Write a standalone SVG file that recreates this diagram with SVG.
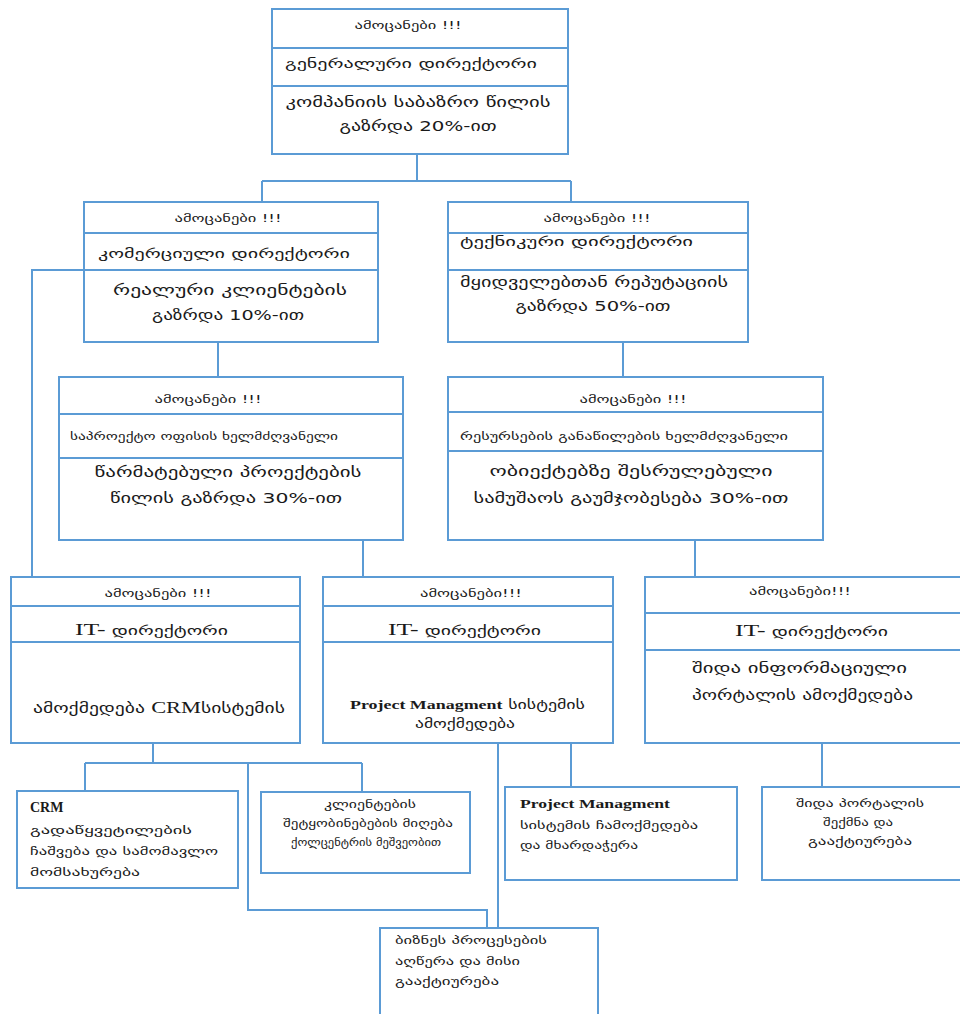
<svg xmlns="http://www.w3.org/2000/svg" width="960" height="1014" viewBox="0 0 960 1014">
  <style>
    .box { fill: #ffffff; stroke: #5B9BD5; stroke-width: 2; }
    .sep { stroke: #5B9BD5; stroke-width: 2; }
    .wire { fill: none; stroke: #5B9BD5; stroke-width: 2; }
    text { font-family: "DejaVu Sans", "Noto Sans", sans-serif; fill: #1a1a1a; }
    .hd { font-size: 11px; }
    .md { font-size: 13px; }
    .sm { font-size: 10px; }
    .bd { font-size: 14px; }
    .bt { font-size: 11px; }
    .mid { text-anchor: middle; }
    .serif { font-family: "Liberation Serif", "Times New Roman", serif; }
    .sb { font-family: "Liberation Serif", "Times New Roman", serif; font-weight: bold; }
  </style>
  <rect width="960" height="1014" fill="#ffffff"/>

  <!-- connectors -->
  <g id="connectors">
    <path class="wire" d="M417,154 V181 M262,181 H571 M262,181 V202 M571,181 V202"/>
    <path class="wire" d="M218,342 V377"/>
    <path class="wire" d="M623,342 V377"/>
    <path class="wire" d="M83,270 H32 V577"/>
    <path class="wire" d="M363,540 V577"/>
    <path class="wire" d="M695,540 V577"/>
    <path class="wire" d="M153,743 V763 M85,763 H362 M85,763 V791 M362,763 V792"/>
    <path class="wire" d="M248,763 V910 H487 V928"/>
    <path class="wire" d="M498,743 V928"/>
    <path class="wire" d="M571,743 V787"/>
    <path class="wire" d="M822,743 V787"/>
  </g>

  <!-- general director -->
  <g id="node-general">
    <rect class="box" x="272" y="9" width="296" height="145"/>
    <line class="sep" x1="272" y1="48" x2="568" y2="48"/>
    <line class="sep" x1="272" y1="86" x2="568" y2="86"/>
    <text class="hd mid" x="408" y="29" textLength="107" lengthAdjust="spacingAndGlyphs">ამოცანები !!!</text>
    <text class="md" x="285" y="68" textLength="252" lengthAdjust="spacingAndGlyphs">გენერალური დირექტორი</text>
    <text class="bd mid" x="418" y="107" textLength="265" lengthAdjust="spacingAndGlyphs">კომპანიის საბაზრო წილის</text>
    <text class="bd mid" x="418" y="131" textLength="157" lengthAdjust="spacingAndGlyphs">გაზრდა 20%-ით</text>
  </g>

  <!-- commercial director -->
  <g id="node-commercial">
    <rect class="box" x="84" y="202" width="294" height="140"/>
    <line class="sep" x1="84" y1="233" x2="378" y2="233"/>
    <line class="sep" x1="84" y1="270" x2="378" y2="270"/>
    <text class="hd mid" x="228" y="222" textLength="107" lengthAdjust="spacingAndGlyphs">ამოცანები !!!</text>
    <text class="md" x="98" y="258" textLength="252" lengthAdjust="spacingAndGlyphs">კომერციული დირექტორი</text>
    <text class="bd mid" x="230" y="295" textLength="234" lengthAdjust="spacingAndGlyphs">რეალური კლიენტების</text>
    <text class="bd mid" x="228" y="320" textLength="152" lengthAdjust="spacingAndGlyphs">გაზრდა 10%-ით</text>
  </g>

  <!-- technical director -->
  <g id="node-technical">
    <rect class="box" x="448" y="202" width="300" height="140"/>
    <line class="sep" x1="448" y1="233" x2="748" y2="233"/>
    <line class="sep" x1="448" y1="270" x2="748" y2="270"/>
    <text class="hd mid" x="597" y="222" textLength="107" lengthAdjust="spacingAndGlyphs">ამოცანები !!!</text>
    <text class="md" x="460" y="246" textLength="233" lengthAdjust="spacingAndGlyphs">ტექნიკური დირექტორი</text>
    <text class="bd" x="460" y="287" textLength="268" lengthAdjust="spacingAndGlyphs">მყიდველებთან რეპუტაციის</text>
    <text class="bd mid" x="593" y="311" textLength="155" lengthAdjust="spacingAndGlyphs">გაზრდა 50%-ით</text>
  </g>

  <!-- project office head -->
  <g id="node-project-office">
    <rect class="box" x="59" y="377" width="344" height="163"/>
    <line class="sep" x1="59" y1="414" x2="403" y2="414"/>
    <line class="sep" x1="59" y1="458" x2="403" y2="458"/>
    <text class="hd mid" x="208" y="403" textLength="107" lengthAdjust="spacingAndGlyphs">ამოცანები !!!</text>
    <text class="sm" x="70" y="440" textLength="268" lengthAdjust="spacingAndGlyphs">საპროექტო ოფისის ხელმძღვანელი</text>
    <text class="bd mid" x="228" y="477" textLength="267" lengthAdjust="spacingAndGlyphs">წარმატებული პროექტების</text>
    <text class="bd mid" x="226" y="503" textLength="232" lengthAdjust="spacingAndGlyphs">წილის გაზრდა 30%-ით</text>
  </g>

  <!-- resource allocation head -->
  <g id="node-resources">
    <rect class="box" x="448" y="377" width="375" height="163"/>
    <line class="sep" x1="448" y1="412" x2="823" y2="412"/>
    <line class="sep" x1="448" y1="451" x2="823" y2="451"/>
    <text class="hd mid" x="633" y="403" textLength="107" lengthAdjust="spacingAndGlyphs">ამოცანები !!!</text>
    <text class="sm" x="460" y="440" textLength="328" lengthAdjust="spacingAndGlyphs">რესურსების განაწილების ხელმძღვანელი</text>
    <text class="bd mid" x="631" y="476" textLength="283" lengthAdjust="spacingAndGlyphs">ობიექტებზე შესრულებული</text>
    <text class="bd mid" x="631" y="503" textLength="315" lengthAdjust="spacingAndGlyphs">სამუშაოს გაუმჯობესება 30%-ით</text>
  </g>

  <!-- IT director: CRM -->
  <g id="node-it-crm">
    <rect class="box" x="11" y="577" width="289" height="166"/>
    <line class="sep" x1="11" y1="606" x2="300" y2="606"/>
    <line class="sep" x1="11" y1="642" x2="300" y2="642"/>
    <text class="hd mid" x="158" y="597" textLength="107" lengthAdjust="spacingAndGlyphs">ამოცანები !!!</text>
    <text class="md" x="75" y="635" textLength="153" lengthAdjust="spacingAndGlyphs"><tspan class="serif" style="font-size:17px">IT-</tspan> დირექტორი</text>
    <text class="bd" x="33" y="713" textLength="252" lengthAdjust="spacingAndGlyphs">ამოქმედება <tspan class="serif" style="font-size:16px">CRM</tspan>სისტემის</text>
  </g>

  <!-- IT director: project management -->
  <g id="node-it-pm">
    <rect class="box" x="323" y="577" width="290" height="166"/>
    <line class="sep" x1="323" y1="606" x2="613" y2="606"/>
    <line class="sep" x1="323" y1="642" x2="613" y2="642"/>
    <text class="hd mid" x="471" y="597" textLength="102" lengthAdjust="spacingAndGlyphs">ამოცანები!!!</text>
    <text class="md" x="388" y="635" textLength="153" lengthAdjust="spacingAndGlyphs"><tspan class="serif" style="font-size:17px">IT-</tspan> დირექტორი</text>
    <text class="md" x="350" y="709" textLength="235" lengthAdjust="spacingAndGlyphs"><tspan class="sb">Project Managment</tspan> სისტემის</text>
    <text class="md mid" x="465" y="728" textLength="100" lengthAdjust="spacingAndGlyphs">ამოქმედება</text>
  </g>

  <!-- IT director: internal portal -->
  <g id="node-it-portal">
    <rect class="box" x="645" y="577" width="330" height="166"/>
    <line class="sep" x1="645" y1="613" x2="975" y2="613"/>
    <line class="sep" x1="645" y1="650" x2="975" y2="650"/>
    <text class="hd mid" x="800" y="595" textLength="102" lengthAdjust="spacingAndGlyphs">ამოცანები!!!</text>
    <text class="md" x="735" y="636" textLength="153" lengthAdjust="spacingAndGlyphs"><tspan class="serif" style="font-size:17px">IT-</tspan> დირექტორი</text>
    <text class="bd" x="692" y="673" textLength="215" lengthAdjust="spacingAndGlyphs">შიდა ინფორმაციული</text>
    <text class="bd" x="692" y="700" textLength="221" lengthAdjust="spacingAndGlyphs">პორტალის ამოქმედება</text>
  </g>

  <!-- CRM solution -->
  <g id="node-crm">
    <rect class="box" x="17" y="791" width="221" height="97"/>
    <text class="sb" x="30" y="812" style="font-size:14px">CRM</text>
    <text class="bt" x="30" y="834" textLength="162" lengthAdjust="spacingAndGlyphs">გადაწყვეტილების</text>
    <text class="bt" x="30" y="855" textLength="188" lengthAdjust="spacingAndGlyphs">ჩაშვება და სამომავლო</text>
    <text class="bt" x="30" y="876" textLength="110" lengthAdjust="spacingAndGlyphs">მომსახურება</text>
  </g>

  <!-- call centre messages -->
  <g id="node-callcenter">
    <rect class="box" x="261" y="792" width="209" height="81"/>
    <text class="sm mid" x="370" y="808" textLength="92" lengthAdjust="spacingAndGlyphs">კლიენტების</text>
    <text class="sm mid" x="368" y="827" textLength="170" lengthAdjust="spacingAndGlyphs">შეტყობინებების მიღება</text>
    <text class="sm mid" x="366" y="846" textLength="150" lengthAdjust="spacingAndGlyphs">ქოლცენტრის მეშვეობით</text>
  </g>

  <!-- project management system support -->
  <g id="node-pm-support">
    <rect class="box" x="505" y="787" width="232" height="93"/>
    <text class="sb" x="520" y="808" style="font-size:13px" textLength="150" lengthAdjust="spacingAndGlyphs">Project Managment</text>
    <text class="bt" x="520" y="829" textLength="178" lengthAdjust="spacingAndGlyphs">სისტემის ჩამოქმედება</text>
    <text class="bt" x="520" y="849" textLength="118" lengthAdjust="spacingAndGlyphs">და მხარდაჭერა</text>
  </g>

  <!-- internal portal development -->
  <g id="node-portal-dev">
    <rect class="box" x="762" y="787" width="213" height="93"/>
    <text class="sm mid" x="860" y="807" textLength="128" lengthAdjust="spacingAndGlyphs">შიდა პორტალის</text>
    <text class="sm mid" x="858" y="826" textLength="70" lengthAdjust="spacingAndGlyphs">შექმნა და</text>
    <text class="sm mid" x="860" y="845" textLength="104" lengthAdjust="spacingAndGlyphs">გააქტიურება</text>
  </g>

  <!-- business processes -->
  <g id="node-business">
    <rect class="box" x="380" y="928" width="218" height="100"/>
    <text class="sm" x="395" y="944" textLength="152" lengthAdjust="spacingAndGlyphs">ბიზნეს პროცესების</text>
    <text class="sm" x="395" y="965" textLength="125" lengthAdjust="spacingAndGlyphs">აღწერა და მისი</text>
    <text class="sm" x="395" y="985" textLength="104" lengthAdjust="spacingAndGlyphs">გააქტიურება</text>
  </g>
</svg>
